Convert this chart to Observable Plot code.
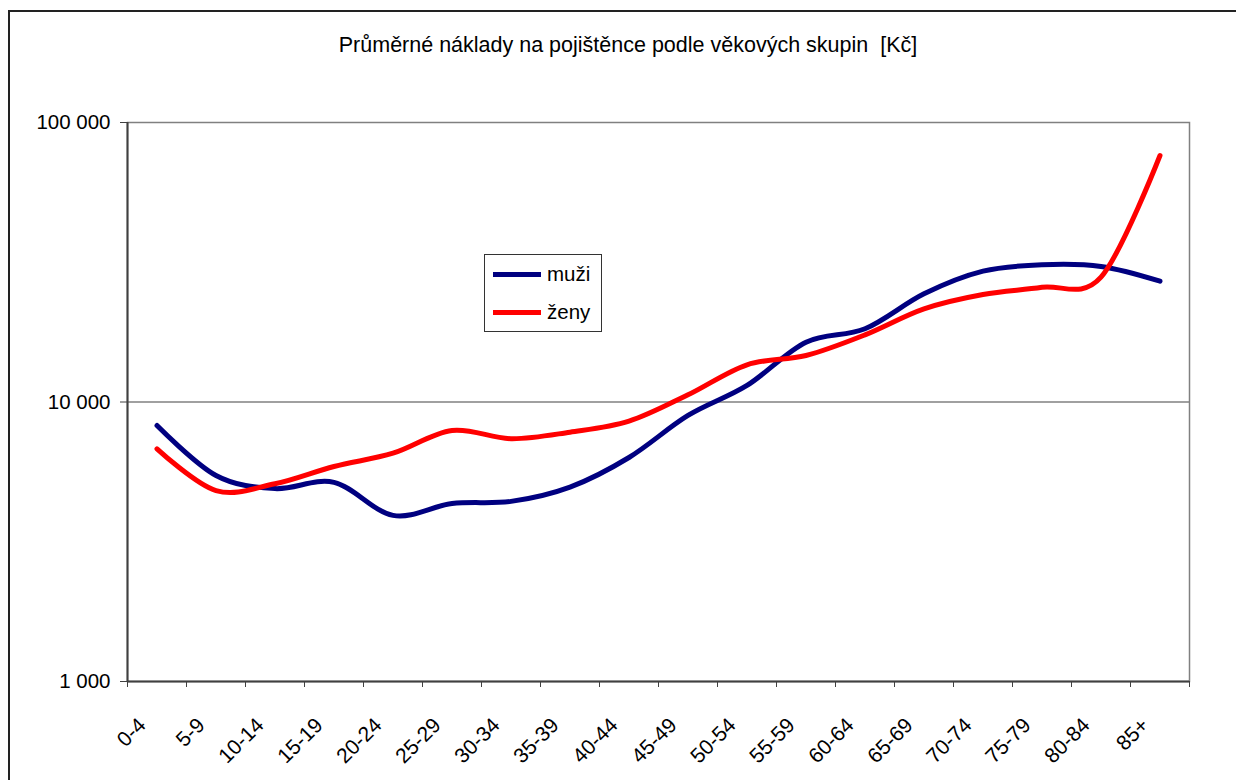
<!DOCTYPE html>
<html>
<head>
<meta charset="utf-8">
<script src="https://cdn.jsdelivr.net/npm/d3@7"></script>
<script src="https://cdn.jsdelivr.net/npm/@observablehq/plot@0.6"></script>
<style>
  body { margin: 0; background: #fff; font-family: "Liberation Sans", Arial, sans-serif; }
  #wrap { position: relative; width: 1236px; height: 780px; overflow: hidden; background: #fff; }
  #frame { position: absolute; left: 8px; top: 10px; width: 1300px; height: 900px; border: 2px solid #222; box-sizing: border-box; }
  #title { position: absolute; left: 0; top: 33px; width: 1256px; text-align: center; font-size: 21.5px; color: #000; white-space: pre; }
  #chart { position: absolute; left: 0; top: 0; }
  #legend { position: absolute; left: 484px; top: 254px; width: 118px; height: 78px; border: 1px solid #333; background: #fff; box-sizing: border-box; }
  .item { position: absolute; left: 8px; height: 24px; display: flex; align-items: center; font-size: 20.5px; color: #000; }
  .sw { width: 48px; height: 5px; margin-right: 6px; }
</style>
</head>
<body>
<div id="wrap">
  <div id="frame"></div>
  <div id="chart"></div>
  <div id="title">Průměrné náklady na pojištěnce podle věkových skupin  [Kč]</div>
  <div id="legend"></div>
</div>
<script>
const categories = ["0-4","5-9","10-14","15-19","20-24","25-29","30-34","35-39","40-44","45-49","50-54","55-59","60-64","65-69","70-74","75-79","80-84","85+"];
const muzi = [8240, 5460, 4900, 5160, 3930, 4330, 4410, 4960, 6330, 8950, 11460, 16370, 18280, 24380, 29380, 30970, 30540, 27050];
const zeny = [6800, 4820, 5100, 5880, 6560, 7910, 7390, 7800, 8540, 10610, 13590, 14670, 17390, 21540, 24250, 25740, 27970, 76200];
const yTicks = [1000, 10000, 100000];
const seriesNames = ["muži", "ženy"];
const seriesColors = ["#000080", "#ff0000"];

const fmt = d => d3.format(",")(d).replace(/,/g, " ");
const bounds = categories.map((_, i) => i - 0.5).concat([categories.length - 0.5]);

const chart = Plot.plot({
  width: 1236,
  height: 780,
  marginLeft: 127,
  marginRight: 47,
  marginTop: 122,
  marginBottom: 99,
  style: { background: "transparent", fontFamily: "'Liberation Sans', Arial, sans-serif", fontSize: "20px", color: "#000" },
  x: { type: "linear", domain: [-0.5, categories.length - 0.5] },
  y: { type: "log", domain: [1000, 100000] },
  marks: [
    Plot.frame({ stroke: "#808080", strokeWidth: 1.5 }),
    Plot.ruleY([10000], { stroke: "#808080", strokeWidth: 1.5 }),
    Plot.axisY({ ticks: yTicks, tickFormat: fmt, tickSize: 7, tickPadding: 10, stroke: "#404040", strokeOpacity: 1, fontSize: 20.5 }),
    Plot.axisX({ ticks: bounds, tickFormat: () => "", tickSize: 6, stroke: "#404040", strokeOpacity: 1 }),
    Plot.ruleX([-0.5], { stroke: "#404040", strokeWidth: 2 }),
    Plot.ruleY([1000], { stroke: "#404040", strokeWidth: 2 }),
    Plot.text(categories, { x: (d, i) => i, frameAnchor: "bottom", text: d => d, rotate: -45, textAnchor: "end", lineAnchor: "bottom", dx: -10, dy: 45, fontSize: 21, fill: "#000" }),
    Plot.line(muzi, { x: (d, i) => i, y: d => d, stroke: seriesColors[0], strokeWidth: 5, curve: "cardinal", tension: 0, strokeLinejoin: "round" }),
    Plot.line(zeny, { x: (d, i) => i, y: d => d, stroke: seriesColors[1], strokeWidth: 5, curve: "cardinal", tension: 0, strokeLinejoin: "round" })
  ]
});
document.getElementById("chart").appendChild(chart);

const legend = document.getElementById("legend");
seriesNames.forEach((name, k) => {
  const item = document.createElement("div");
  item.className = "item";
  item.style.top = (k === 0 ? 7 : 45) + "px";
  const sw = document.createElement("div");
  sw.className = "sw";
  sw.style.background = seriesColors[k];
  const t = document.createElement("span");
  t.textContent = name;
  item.appendChild(sw);
  item.appendChild(t);
  legend.appendChild(item);
});
</script>
</body>
</html>
